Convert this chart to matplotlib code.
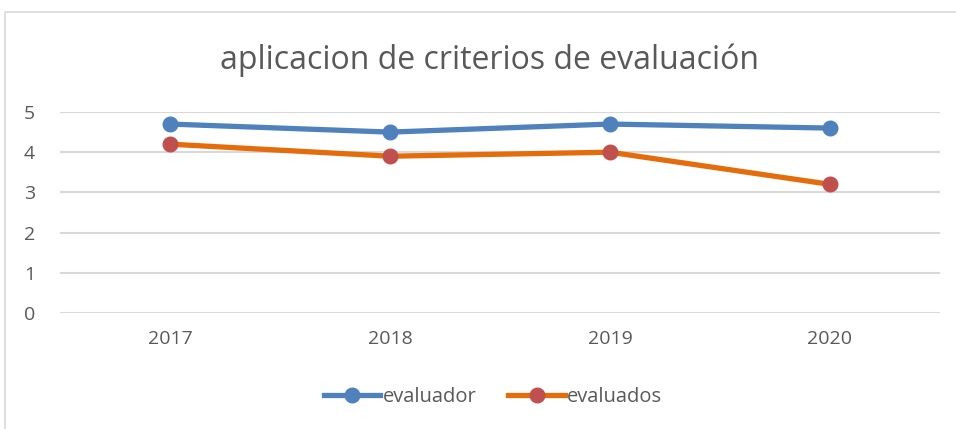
import matplotlib
matplotlib.use("Agg")
import matplotlib.pyplot as plt
from matplotlib.patches import Rectangle
from matplotlib.lines import Line2D

years = ["2017", "2018", "2019", "2020"]
evaluador = [4.7, 4.5, 4.7, 4.6]
evaluados = [4.2, 3.9, 4.0, 3.2]
yticks = [0, 1, 2, 3, 4, 5]

plt.rcParams['font.family'] = ['Open Sans', 'DejaVu Sans']
txt = '#595959'

fig = plt.figure(figsize=(9.56, 4.29), dpi=100)
fig.patches.append(Rectangle((5/956, -0.01), 1.0, 1 - 12/429 + 0.01, transform=fig.transFigure,
                             fill=False, edgecolor='#d9d9d9', linewidth=1.2))
ax = fig.add_axes([60/956, 1 - 313/429, 880/956, 201/429])
x = list(range(len(years)))
ax.plot(x, evaluador, color='#4F81BD', linewidth=3.8, marker='o', markersize=10.5,
        markerfacecolor='#4F81BD', markeredgecolor='#4F81BD', solid_capstyle='round', zorder=3)
ax.plot(x, evaluados, color='#E46C0A', linewidth=3.8, marker='o', markersize=10.5,
        markerfacecolor='#C0504D', markeredgecolor='#C0504D', solid_capstyle='round', zorder=3)
ax.set_xlim(-0.5, len(years) - 0.5)
ax.set_ylim(0, 5)
ax.set_yticks(yticks)
ax.set_xticks(x)
ax.set_xticklabels(years)
ax.grid(axis='y', color='#d9d9d9', linewidth=1.5)
ax.set_axisbelow(True)
for s in ax.spines.values():
    s.set_visible(False)
ax.tick_params(length=0, labelsize=14, colors=txt)
ax.tick_params(axis='y', pad=18)
ax.tick_params(axis='x', pad=12)

fig.text(490/956, 1 - 60/429, "aplicacion de criterios de evaluación", ha='center', va='center',
         fontsize=23, color=txt)

handles = [Line2D([], [], color='#4F81BD', linewidth=3.8, marker='o', markersize=10.5,
                  markerfacecolor='#4F81BD', markeredgecolor='#4F81BD'),
           Line2D([], [], color='#E46C0A', linewidth=3.8, marker='o', markersize=10.5,
                  markerfacecolor='#C0504D', markeredgecolor='#C0504D')]
leg = fig.legend(handles, ["evaluador", "evaluados"], loc='center', bbox_to_anchor=(493/956, 1 - 397/429),
                 ncol=2, frameon=False, fontsize=14.5, handlelength=2.8, handletextpad=0.1,
                 columnspacing=1.6, labelcolor=txt)
fig.savefig("out.png", dpi=100)
